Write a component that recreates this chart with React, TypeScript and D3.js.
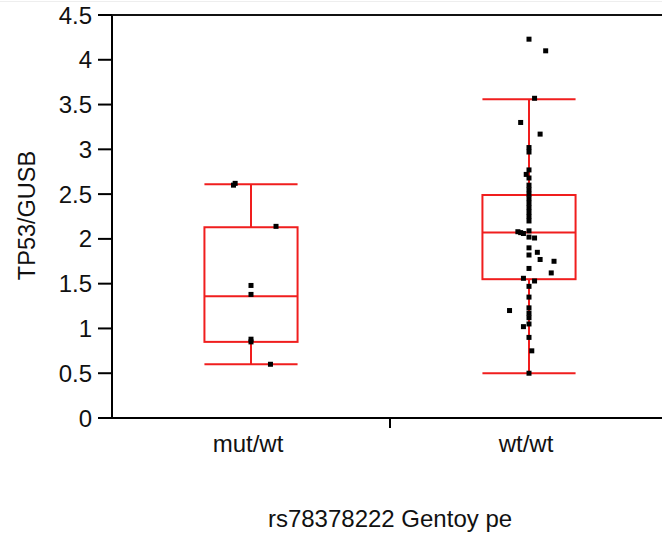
import React from "react";
import * as d3 from "d3";

// groups on the x axis
const categories = ["mut/wt", "wt/wt"];

// box statistics: [lower whisker, Q1, median, Q3, upper whisker]
const mutBox = [0.6, 0.85, 1.36, 2.13, 2.61];
const wtBox = [0.5, 1.55, 2.07, 2.49, 3.56];

// individual samples (TP53/GUSB)
const mutValues = [2.6, 2.62, 2.14, 1.48, 1.38, 0.88, 0.85, 0.6];
const mutJitter = [-0.063, -0.057, 0.09, 0, 0, 0, 0, 0.07];

const wtValues = [
  4.23, 4.1, 3.57, 3.3, 3.17, 3.02, 2.97, 2.77, 2.72, 2.68, 2.6, 2.55, 2.5, 2.45,
  2.4, 2.35, 2.3, 2.25, 2.2, 2.08, 2.07, 2.06, 2.09, 2.02, 2.01, 1.9, 1.85, 1.82,
  1.77, 1.75, 1.67, 1.62, 1.56, 1.53, 1.47, 1.35, 1.23, 1.2, 1.17, 1.12, 1.05, 1.02,
  0.9, 0.75, 0.5,
];
const wtJitter = [
  0, 0.06, 0.02, -0.03, 0.04, 0, 0, 0, -0.01, 0, 0, 0, 0, 0,
  0, 0, 0, 0, 0, -0.04, -0.03, -0.02, 0, 0, 0.02, 0, 0.03, 0,
  0.04, 0.09, 0, 0.08, -0.02, 0.02, 0, 0, 0, -0.07, 0, 0, 0, -0.02,
  0, 0.01, 0,
];

const yTicks = [0, 0.5, 1, 1.5, 2, 2.5, 3, 3.5, 4, 4.5];

const App = () => {
  const width = 662;
  const height = 535;
  const x0 = 112;
  const yBottom = 418;
  const yTop = 15;
  const font = "'Liberation Sans', Arial, sans-serif";

  const xScale = d3.scaleBand().domain(categories).range([x0, 668]).padding(0);
  const yScale = d3.scaleLinear().domain([0, 4.5]).range([yBottom, yTop]);
  const bw = xScale.bandwidth();
  const boxW = bw * 0.335;

  const groups = [
    { name: categories[0], box: mutBox, values: mutValues, jitter: mutJitter },
    { name: categories[1], box: wtBox, values: wtValues, jitter: wtJitter },
  ];

  return (
    <svg
      width={width}
      height={height}
      viewBox={`0 0 ${width} ${height}`}
      style={{ position: "absolute", left: 0, top: 0, background: "#fff" }}
    >
      {/* faint top edge */}
      <line x1={0} x2={width} y1={1.5} y2={1.5} stroke="#eee" strokeWidth={1} />

      {/* Boxes */}
      {groups.map((g) => {
        const cx = (xScale(g.name) as number) + bw / 2;
        const [lo, q1, med, q3, hi] = g.box;
        const left = cx - boxW / 2;
        const right = cx + boxW / 2;
        return (
          <g key={g.name} stroke="#f01e1e" strokeWidth={2} fill="none">
            <line x1={cx} x2={cx} y1={yScale(hi)} y2={yScale(q3)} />
            <line x1={cx} x2={cx} y1={yScale(q1)} y2={yScale(lo)} />
            <line x1={left} x2={right} y1={yScale(hi)} y2={yScale(hi)} />
            <line x1={left} x2={right} y1={yScale(lo)} y2={yScale(lo)} />
            <rect x={left} y={yScale(q3)} width={boxW} height={yScale(q1) - yScale(q3)} />
            <line x1={left} x2={right} y1={yScale(med)} y2={yScale(med)} />
          </g>
        );
      })}

      {/* Points */}
      {groups.map((g) => {
        const cx = (xScale(g.name) as number) + bw / 2;
        return g.values.map((v, i) => (
          <rect
            key={g.name + i}
            x={cx + g.jitter[i] * bw - 2.5}
            y={yScale(v) - 2.5}
            width={5}
            height={5}
            fill="#000"
          />
        ));
      })}

      {/* Frame: left axis, top edge, bottom axis */}
      <line x1={x0} x2={x0} y1={yTop - 1} y2={yBottom + 1} stroke="#000" strokeWidth={2} />
      <line x1={x0 - 1} x2={width} y1={yScale(4.5)} y2={yScale(4.5)} stroke="#111" strokeWidth={2} />
      {yTicks.map((t) => (
        <g key={t} transform={`translate(0, ${yScale(t)})`}>
          <line x1={x0 - 14} x2={x0} stroke="#000" strokeWidth={2} />
          <text
            x={x0 - 20}
            y={8.5}
            textAnchor="end"
            style={{ fontSize: "24px", fontFamily: font, fill: "#111" }}
          >
            {t}
          </text>
        </g>
      ))}
      <text
        transform={`translate(35, ${yScale(2.25) - 1}) rotate(-90)`}
        textAnchor="middle"
        style={{ fontSize: "23.5px", fontFamily: font, fill: "#111" }}
      >
        TP53/GUSB
      </text>

      <line x1={x0 - 1} x2={width} y1={yBottom} y2={yBottom} stroke="#000" strokeWidth={2} />
      <line
        x1={xScale(categories[1]) as number}
        x2={xScale(categories[1]) as number}
        y1={yBottom}
        y2={yBottom + 10}
        stroke="#000"
        strokeWidth={2}
      />
      {categories.map((c) => (
        <text
          key={c}
          x={(xScale(c) as number) + bw / 2 - 3}
          y={452}
          textAnchor="middle"
          style={{ fontSize: "24px", fontFamily: font, fill: "#111" }}
        >
          {c}
        </text>
      ))}
      <text
        x={390}
        y={527}
        textAnchor="middle"
        style={{ fontSize: "24px", fontFamily: font, fill: "#111" }}
      >
        rs78378222 Gentoy pe
      </text>
    </svg>
  );
};

export default App;
